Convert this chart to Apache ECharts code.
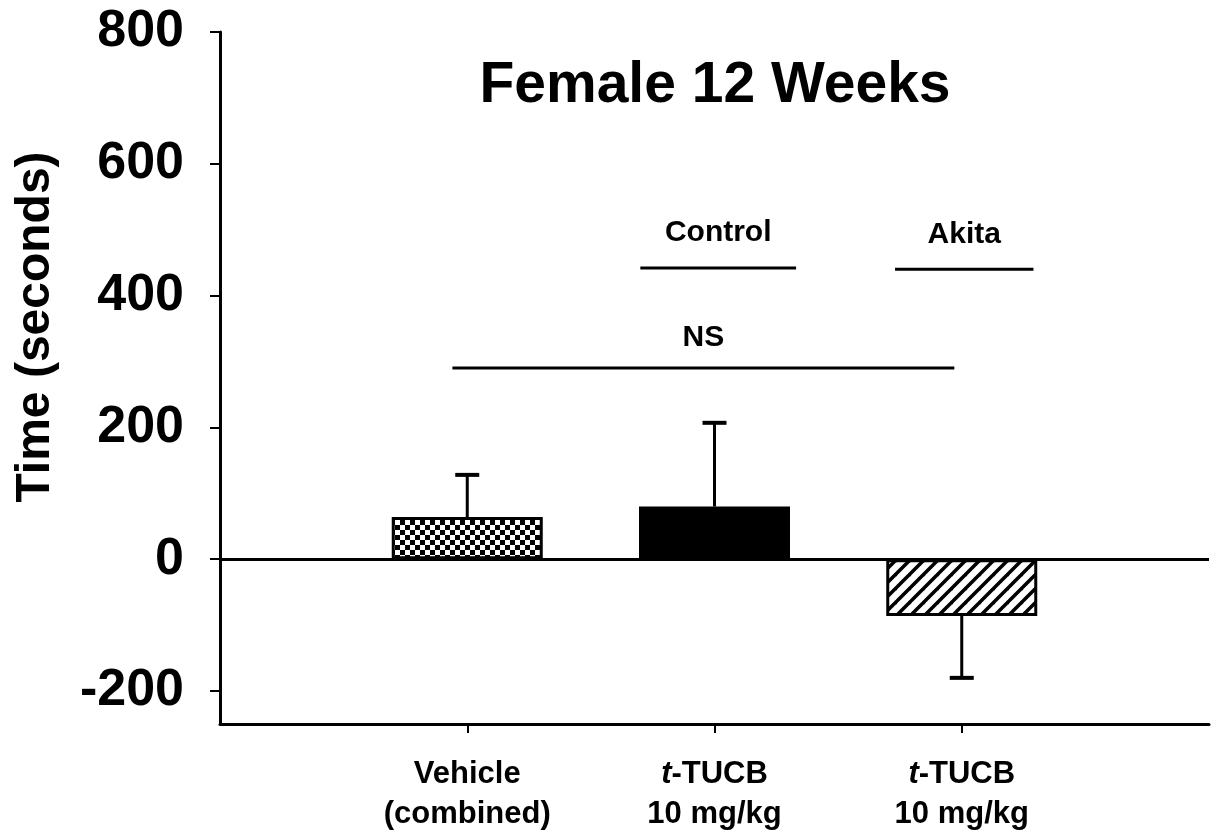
<!DOCTYPE html>
<html>
<head>
<meta charset="utf-8">
<script src="https://cdn.jsdelivr.net/npm/echarts@6/dist/echarts.min.js"></script>
<style>
  html, body { margin: 0; background: #fff; }
  #chart { width: 1212px; height: 837px; }
</style>
</head>
<body>
<div id="chart"></div>
<script>
// bar groups, placed at 1,2,3 on a 0..4 x scale
const groups = ['Vehicle\n(combined)', 't-TUCB\n10 mg/kg', 't-TUCB\n10 mg/kg'];
const groupPos = [1, 2, 3];
const means = [64, 80, -86];
const errors = [64, 127, 94];
const yTicks = [-200, 0, 200, 400, 600, 800];

// comparison brackets above the bars
const bracketNames = ['Control', 'Akita', 'NS'];
const bracketStart = [1.70, 2.73, 0.94];
const bracketEnd = [2.33, 3.29, 2.97];
const bracketY = [442, 440, 290];

const FONT = '"Liberation Sans", Arial, sans-serif';

function checkerPattern() {
  const c = document.createElement('canvas');
  c.width = 10; c.height = 10;
  const g = c.getContext('2d');
  g.fillStyle = '#fff'; g.fillRect(0, 0, 10, 10);
  g.fillStyle = '#000';
  g.fillRect(0, 0, 5, 5);
  g.fillRect(5, 5, 5, 5);
  return c;
}

function hatchPattern() {
  const s = 14;
  const c = document.createElement('canvas');
  c.width = s; c.height = s;
  const g = c.getContext('2d');
  g.fillStyle = '#fff'; g.fillRect(0, 0, s, s);
  g.strokeStyle = '#000'; g.lineWidth = 3.5;
  [[0, s, s, 0], [-s, s, 0, 0], [s, s * 2, s * 2, s], [-1, 1, 1, -1], [s - 1, s + 1, s + 1, s - 1]].forEach(function (l) {
    g.beginPath(); g.moveTo(l[0], l[1]); g.lineTo(l[2], l[3]); g.stroke();
  });
  return c;
}

const fills = [
  { image: checkerPattern(), repeat: 'repeat' },
  '#000',
  { image: hatchPattern(), repeat: 'repeat' }
];

const chart = echarts.init(document.getElementById('chart'));

chart.setOption({
  animation: false,
  backgroundColor: '#fff',
  grid: { left: 220, right: 3, top: 32, bottom: 113 },
  xAxis: {
    type: 'value',
    min: 0,
    max: 4,
    splitLine: { show: false },
    axisLine: { onZero: false, lineStyle: { color: '#000', width: 3 } },
    axisTick: { customValues: groupPos, length: 9, lineStyle: { color: '#000', width: 2 } },
    axisLabel: {
      customValues: groupPos,
      margin: 30,
      color: '#000',
      fontFamily: FONT,
      fontWeight: 'bold',
      fontSize: 31,
      lineHeight: 40,
      formatter: function (v) {
        const name = groups[groupPos.indexOf(v)] || '';
        return name.indexOf('t-') === 0 ? '{i|t}' + name.slice(1) : name;
      },
      rich: {
        i: { fontStyle: 'italic', fontWeight: 'bold', fontFamily: FONT, fontSize: 31, color: '#000' }
      }
    }
  },
  yAxis: {
    type: 'value',
    min: -250,
    max: 800,
    splitLine: { show: false },
    axisLine: { show: true, lineStyle: { color: '#000', width: 3 } },
    axisTick: { customValues: yTicks, length: 10, lineStyle: { color: '#000', width: 2 } },
    axisLabel: {
      customValues: yTicks,
      margin: 36,
      color: '#000',
      fontFamily: FONT,
      fontWeight: 'bold',
      fontSize: 52
    }
  },
  graphic: [
    {
      type: 'text',
      x: 715, y: 86,
      style: {
        text: 'Female 12 Weeks', fill: '#000',
        font: 'bold 57px ' + FONT,
        textAlign: 'center', textVerticalAlign: 'middle'
      }
    },
    {
      type: 'text',
      x: 36, y: 327,
      rotation: Math.PI / 2,
      style: {
        text: 'Time (seconds)', fill: '#000',
        font: 'bold 48px ' + FONT,
        textAlign: 'center', textVerticalAlign: 'middle'
      }
    }
  ],
  series: [
    {
      type: 'bar',
      barWidth: 151,
      data: groupPos.map(function (x, i) {
        return { value: [x, means[i]], itemStyle: { color: fills[i] } };
      }),
      itemStyle: { borderColor: '#000', borderWidth: 3 },
      markLine: {
        silent: true,
        symbol: 'none',
        label: { show: false },
        lineStyle: { color: '#000', width: 3, type: 'solid' },
        data: [{ yAxis: 0 }]
      },
      z: 2
    },
    {
      type: 'custom',
      data: groupPos.map(function (x, i) { return [x, means[i], errors[i]]; }),
      renderItem: function (params, api) {
        const x = api.value(0), m = api.value(1), e = api.value(2);
        const end = m >= 0 ? m + e : m - e;
        const p0 = api.coord([x, m]);
        const p1 = api.coord([x, end]);
        return {
          type: 'group',
          children: [
            { type: 'line', shape: { x1: p0[0], y1: p0[1], x2: p1[0], y2: p1[1] }, style: { stroke: '#000', lineWidth: 3 } },
            { type: 'line', shape: { x1: p1[0] - 12, y1: p1[1], x2: p1[0] + 12, y2: p1[1] }, style: { stroke: '#000', lineWidth: 4 } }
          ]
        };
      },
      z: 3
    },
    {
      type: 'custom',
      data: bracketNames.map(function (n, i) { return [bracketStart[i], bracketEnd[i], bracketY[i]]; }),
      renderItem: function (params, api) {
        const a = api.coord([api.value(0), api.value(2)]);
        const b = api.coord([api.value(1), api.value(2)]);
        const isNS = bracketNames[params.dataIndex] === 'NS';
        return {
          type: 'group',
          children: [
            { type: 'line', shape: { x1: a[0], y1: a[1], x2: b[0], y2: b[1] }, style: { stroke: '#000', lineWidth: 3 } },
            {
              type: 'text',
              x: (a[0] + b[0]) / 2, y: a[1] - (isNS ? 30 : 35),
              style: {
                text: bracketNames[params.dataIndex], fill: '#000',
                font: 'bold 30px ' + FONT,
                textAlign: 'center', textVerticalAlign: 'middle'
              }
            }
          ]
        };
      },
      z: 3
    }
  ]
});
</script>
</body>
</html>
